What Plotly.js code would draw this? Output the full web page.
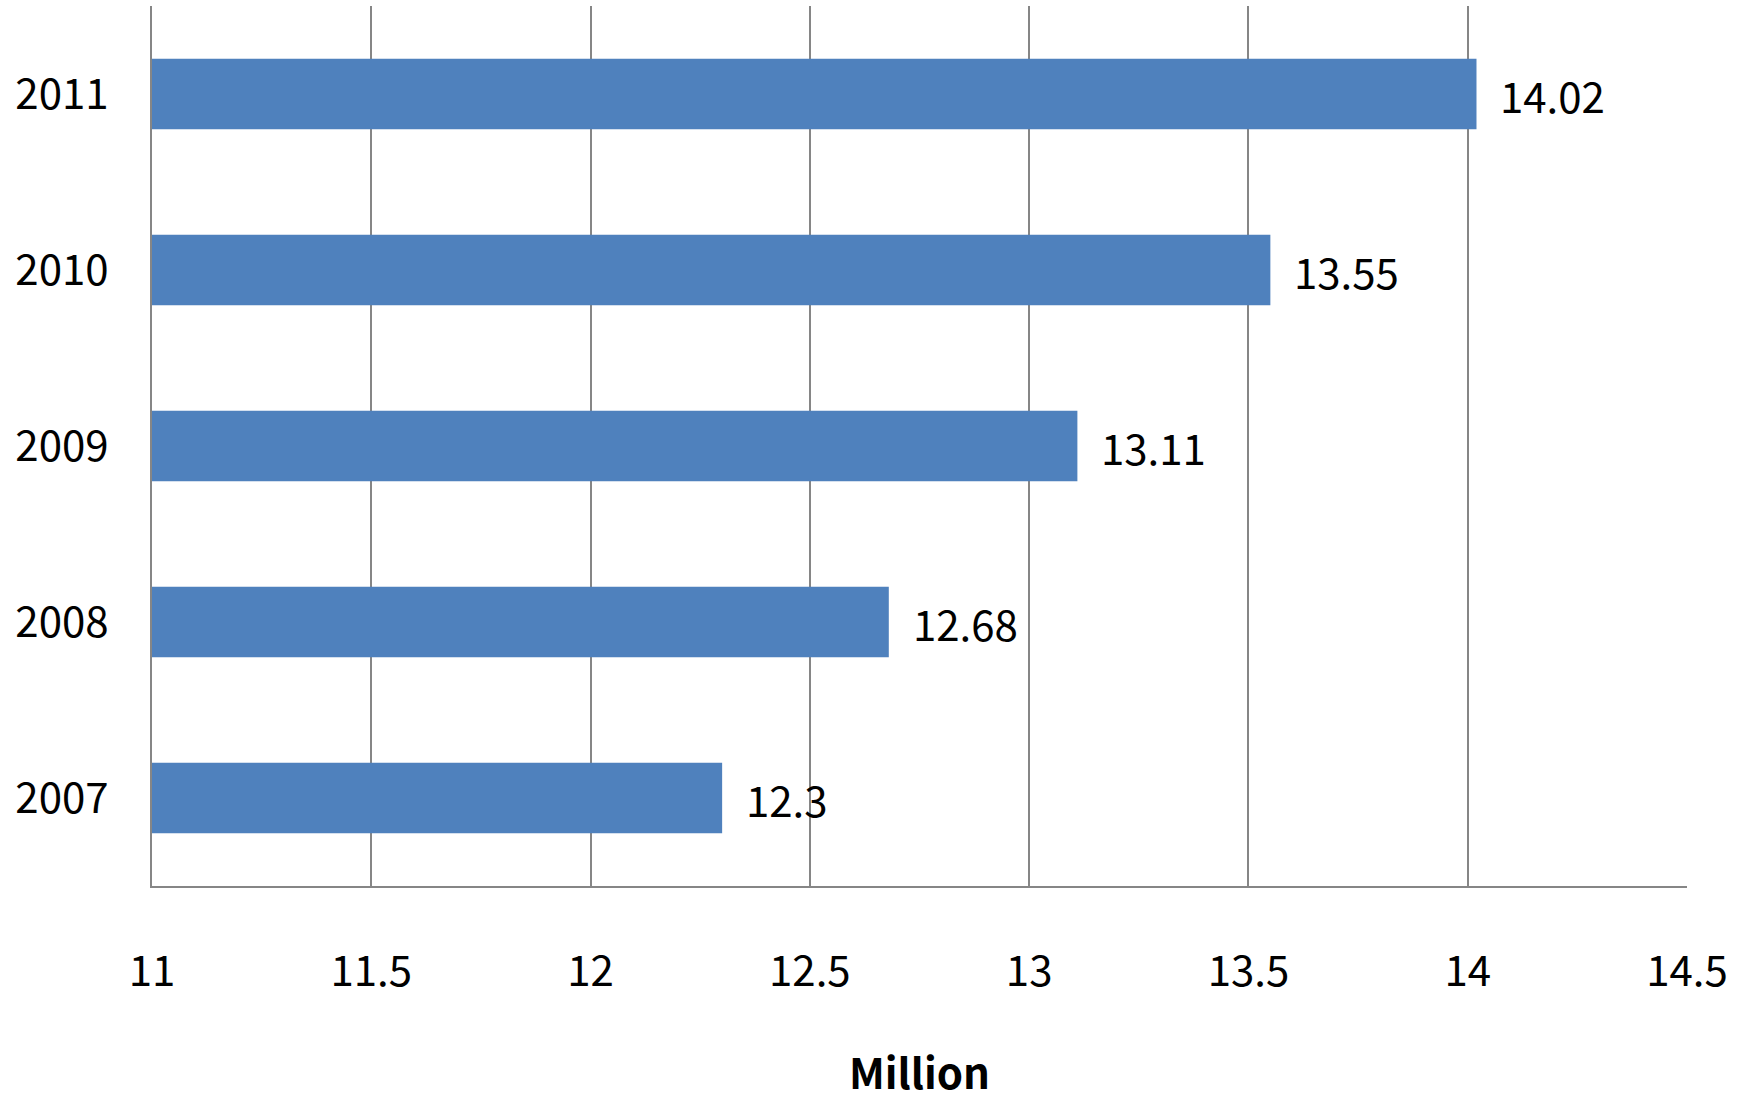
<!DOCTYPE html>
<html>
<head>
<meta charset="utf-8">
<script src="https://cdn.plot.ly/plotly-3.0.1.min.js"></script>
<style>html,body{margin:0;padding:0;background:#fff;}#chart{width:1763px;height:1108px;}</style>
</head>
<body>
<div id="chart"></div>
<script>
const years = ["2007", "2008", "2009", "2010", "2011"];
const values = [12.3, 12.68, 13.11, 13.55, 14.02];
const valueLabels = ["12.3", "12.68", "13.11", "13.55", "14.02"];
const xTicks = [11, 11.5, 12, 12.5, 13, 13.5, 14, 14.5];
const xTitle = "Million";
const baseValue = 11;

const FONT = '"Noto Sans CJK KR", "Noto Sans", sans-serif';

const trace = {
  type: 'bar',
  orientation: 'h',
  y: years,
  x: values.map(v => v - baseValue),
  base: baseValue,
  marker: {color: '#4F81BD', line: {width: 0}},
  hoverinfo: 'none'
};

const annotations = years.map((y, i) => ({
  x: values[i], y: i, xref: 'x', yref: 'y',
  text: valueLabels[i], showarrow: false,
  xanchor: 'left', yanchor: 'middle', xshift: 22, yshift: 0,
  font: {family: FONT, size: 42, color: '#000'}
}));

const layout = {
  width: 1763, height: 1108,
  margin: {l: 152, r: 76, t: 6, b: 222},
  paper_bgcolor: '#fff', plot_bgcolor: '#fff',
  showlegend: false,
  bargap: 0.6,
  font: {family: FONT, size: 42, color: '#000'},
  xaxis: {
    range: [11, 14.5],
    tickvals: xTicks,
    ticktext: xTicks.map(String),
    showgrid: true, gridcolor: '#868686', gridwidth: 2,
    showline: true, linecolor: '#868686', linewidth: 2,
    zeroline: false, ticks: '',
    ticklabelstandoff: 48,
    tickfont: {family: FONT, size: 42, color: '#000'},
    title: {text: xTitle, font: {family: FONT, size: 42, color: '#000', weight: 'bold'}, standoff: 62},
    fixedrange: true
  },
  yaxis: {
    type: 'category',
    categoryorder: 'array',
    categoryarray: years,
    range: [-0.5, 4.5],
    autorange: false,
    showgrid: false,
    showline: true, linecolor: '#868686', linewidth: 2,
    ticks: '', zeroline: false,
    ticklabelstandoff: 33,
    tickfont: {family: FONT, size: 42, color: '#000'},
    fixedrange: true
  },
  annotations: annotations
};

Plotly.newPlot('chart', [trace], layout, {displayModeBar: false, staticPlot: true});
</script>
</body>
</html>
